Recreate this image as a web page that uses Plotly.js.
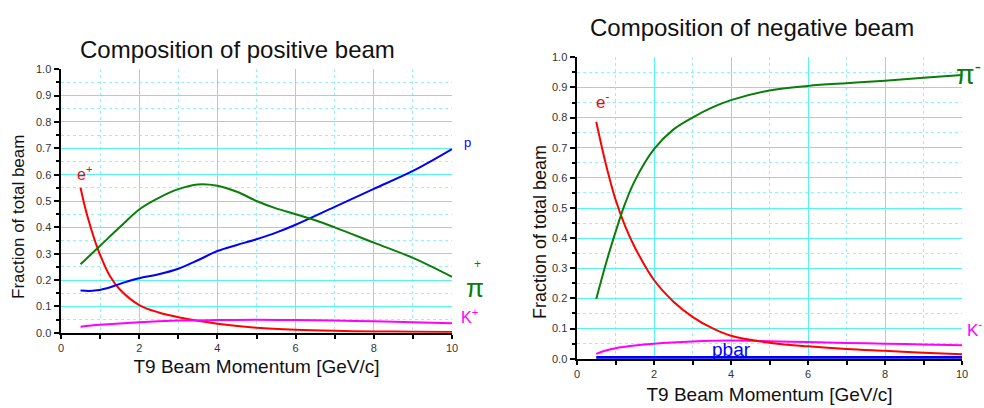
<!DOCTYPE html>
<html>
<head>
<meta charset="utf-8">
<script src="https://cdn.plot.ly/plotly-3.0.1.min.js"></script>
<style>html,body{margin:0;padding:0;background:#fff;}#chart{width:984px;height:408px;}</style>
</head>
<body>
<div id="chart"></div>
<script>
// ---- Positive beam data ----
const posEX = [0.5, 0.6, 0.7, 0.8, 0.9, 1, 1.25, 1.5, 2, 2.5, 3, 3.5, 4, 5, 6, 7, 8, 9, 10];
const posE  = [0.55, 0.485, 0.43, 0.38, 0.335, 0.295, 0.215, 0.165, 0.105, 0.077, 0.059, 0.045, 0.034, 0.019, 0.011, 0.007, 0.005, 0.004, 0.003];
const posPiX = [0.5, 1, 1.5, 2, 2.5, 3, 3.5, 4, 4.5, 5, 5.5, 6, 6.5, 7, 8, 9, 10];
const posPi  = [0.26, 0.33, 0.40, 0.468, 0.512, 0.545, 0.563, 0.558, 0.535, 0.50, 0.472, 0.45, 0.427, 0.40, 0.342, 0.284, 0.212];
const posPX = [0.5, 0.8, 1.2, 1.6, 2, 2.5, 3, 3.5, 4, 4.5, 5, 5.5, 6, 7, 8, 9, 10];
const posP  = [0.16, 0.159, 0.17, 0.19, 0.207, 0.222, 0.243, 0.275, 0.31, 0.333, 0.355, 0.38, 0.41, 0.478, 0.546, 0.614, 0.697];
const posKX = [0.5, 1, 2, 3, 4, 5, 6, 7, 8, 9, 10];
const posK  = [0.023, 0.03, 0.04, 0.046, 0.048, 0.049, 0.048, 0.046, 0.043, 0.04, 0.036];

// ---- Negative beam data ----
const negEX = [0.5, 0.75, 1, 1.25, 1.5, 2, 2.5, 3, 3.5, 4, 5, 6, 7, 8, 9, 10];
const negE  = [0.786, 0.645, 0.528, 0.44, 0.37, 0.261, 0.19, 0.139, 0.102, 0.076, 0.053, 0.041, 0.032, 0.026, 0.02, 0.015];
const negPiX = [0.5, 0.75, 1, 1.25, 1.5, 2, 2.5, 3, 3.5, 4, 5, 6, 7, 8, 9, 10];
const negPi  = [0.198, 0.315, 0.42, 0.515, 0.59, 0.695, 0.76, 0.80, 0.833, 0.858, 0.89, 0.905, 0.914, 0.922, 0.932, 0.941];
const negKX = [0.5, 0.75, 1, 1.5, 2, 3, 4, 5, 6, 7, 8, 9, 10];
const negK  = [0.016, 0.027, 0.035, 0.044, 0.05, 0.057, 0.06, 0.058, 0.055, 0.052, 0.05, 0.047, 0.045];
const negPbarX = [0.5, 2, 4, 6, 8, 10];
const negPbar  = [0.004, 0.004, 0.004, 0.004, 0.004, 0.004];

const xTitle = 'T9 Beam Momentum [GeV/c]';
const yTitle = 'Fraction of total beam';

const RED = '#ff0000', GREEN = '#0a7d0a', BLUE = '#0000ff', MAG = '#ff00ff';
const FONT = 'Liberation Sans, Arial, sans-serif';

function line(x, y, color, xa, ya, w) {
  return {x: x, y: y, type: 'scatter', mode: 'lines', xaxis: xa, yaxis: ya,
    line: {color: color, width: w || 2, shape: 'spline', smoothing: 1},
    hoverinfo: 'skip', showlegend: false, cliponaxis: false};
}

const traces = [
  line(posEX, posE, RED, 'x', 'y'),
  line(posKX, posK, MAG, 'x', 'y'),
  line(posPX, posP, BLUE, 'x', 'y'),
  line(posPiX, posPi, GREEN, 'x', 'y'),
  line(negPbarX, negPbar, BLUE, 'x2', 'y2', 3),
  line(negKX, negK, MAG, 'x2', 'y2'),
  line(negEX, negE, RED, 'x2', 'y2'),
  line(negPiX, negPi, GREEN, 'x2', 'y2')
];

const GRID = '#55f3f3', GRIDMIN = '#88f7f7';
function xaxis(domain, anchor, standoff) {
  return {domain: domain, anchor: anchor, range: [0, 10], tick0: 0, dtick: 2,
    showline: true, linecolor: 'black', linewidth: 2.5, mirror: false,
    ticks: 'outside', ticklen: 4, tickwidth: 2, tickcolor: 'black',
    showgrid: true, gridcolor: GRID, gridwidth: 1, zeroline: false,
    tickfont: {family: FONT, size: 11, color: '#333'},
    minor: {dtick: 1, ticks: 'outside', ticklen: 4, tickwidth: 2, tickcolor: 'black',
      showgrid: true, gridcolor: GRIDMIN, gridwidth: 1, griddash: 'dot'},
    title: {text: xTitle, font: {family: FONT, size: 19, color: '#111'}, standoff: standoff},
    fixedrange: true};
}
function yaxis(domain, anchor) {
  return {domain: domain, anchor: anchor, range: [0, 1], tick0: 0, dtick: 0.1,
    tickformat: '.1f',
    showline: true, linecolor: 'black', linewidth: 2.5,
    ticks: 'outside', ticklen: 5, tickwidth: 2, tickcolor: 'black',
    showgrid: true, gridcolor: GRID, gridwidth: 1, zeroline: false,
    tickfont: {family: FONT, size: 11, color: '#333'},
    minor: {dtick: 0.05, ticks: 'outside', ticklen: 3, tickwidth: 2, tickcolor: 'black',
      showgrid: true, gridcolor: GRIDMIN, gridwidth: 1, griddash: 'dot'},
    fixedrange: true};
}

function ann(text, px, py, color, size, extra) {
  const a = {text: text, xref: 'paper', yref: 'paper', x: px / 984, y: 1 - py / 408,
    xanchor: 'center', yanchor: 'middle', showarrow: false,
    font: {family: FONT, size: size, color: color}};
  return Object.assign(a, extra || {});
}

const layout = {
  width: 984, height: 408,
  margin: {l: 0, r: 0, t: 0, b: 0},
  paper_bgcolor: '#fff', plot_bgcolor: '#fff',
  showlegend: false,
  xaxis: xaxis([61 / 984, 452 / 984], 'y', 7),
  yaxis: yaxis([(408 - 332.7) / 408, (408 - 69.3) / 408], 'x'),
  xaxis2: xaxis([577 / 984, 962 / 984], 'y2', 9),
  yaxis2: yaxis([(408 - 358.7) / 408, (408 - 57.3) / 408], 'x2'),
  annotations: [
    ann('Composition of positive beam', 237.5, 49, '#111', 24),
    ann('Composition of negative beam', 751.5, 28, '#111', 24),
    ann(yTitle, 18, 217, '#111', 17, {textangle: -90}),
    ann(yTitle, 540, 232, '#111', 18, {textangle: -90}),
    ann('e<sup>+</sup>', 84, 173, RED, 16),
    ann('p', 467, 142, BLUE, 13),
    ann('π', 475, 288, GREEN, 26, {height: 22}),
    ann('+', 477, 263, GREEN, 12, {height: 11}),
    ann('K<sup>+</sup>', 469, 316, MAG, 16, {height: 16}),
    ann('e<sup>-</sup>', 602, 101, RED, 17),
    ann('π<sup>-</sup>', 983, 73, GREEN, 27, {xanchor: 'right'}),
    ann('K<sup>-</sup>', 984, 329, MAG, 17, {xanchor: 'right'}),
    ann('pbar', 731, 349, BLUE, 19)
  ]
};

Plotly.newPlot('chart', traces, layout, {staticPlot: true, displayModeBar: false});
</script>
</body>
</html>
